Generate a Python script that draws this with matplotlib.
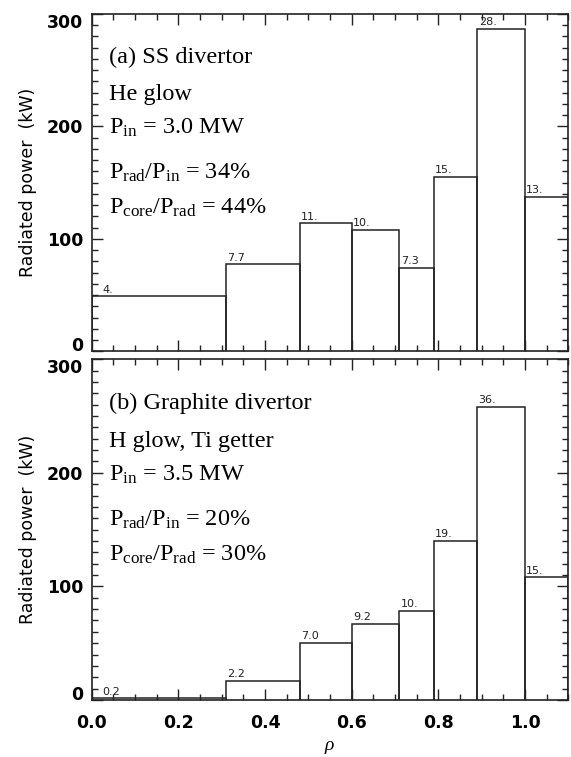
import matplotlib
matplotlib.use("Agg")
import matplotlib.pyplot as plt
from matplotlib.ticker import MultipleLocator, FormatStrFormatter, FixedLocator

# Bin edges in rho
rho_edges = [0.0, 0.31, 0.48, 0.60, 0.71, 0.79, 0.89, 1.0, 1.1]

# (a) SS divertor, He glow
power_a = [49, 77.5, 114, 108, 74.5, 155.5, 287, 137.5]
labels_a = ["4.", "7.7", "11.", "10.", "7.3", "15.", "28.", "13."]
text_a = ["(a) SS divertor", "He glow", r"P$_{\rm in}$ = 3.0 MW",
          r"P$_{\rm rad}$/P$_{\rm in}$ = 34%",
          r"P$_{\rm core}$/P$_{\rm rad}$ = 44%"]

# (b) Graphite divertor, H glow, Ti getter
power_b = [1.5, 17, 50.5, 67, 78.5, 140, 258, 108]
labels_b = ["0.2", "2.2", "7.0", "9.2", "10.", "19.", "36.", "15."]
text_b = ["(b) Graphite divertor", "H glow, Ti getter", r"P$_{\rm in}$ = 3.5 MW",
          r"P$_{\rm rad}$/P$_{\rm in}$ = 20%",
          r"P$_{\rm core}$/P$_{\rm rad}$ = 30%"]

x_ticks = [0.0, 0.2, 0.4, 0.6, 0.8, 1.0]
y_ticks = [0, 100, 200, 300]
ylabel = "Radiated power  (kW)"
xlabel = r"$\rho$"

plt.rcParams['mathtext.fontset'] = 'custom'
plt.rcParams['mathtext.rm'] = 'Liberation Serif'
plt.rcParams['mathtext.it'] = 'Liberation Serif:italic'

fig = plt.figure(figsize=(5.71, 7.57), dpi=100)
ax1 = fig.add_axes([0.1606, 0.5358, 0.8347, 0.4457])
ax2 = fig.add_axes([0.1606, 0.0753, 0.8347, 0.4501])

col = "#222222"

def draw(ax, power, labels, texts, show_x):
    for i, v in enumerate(power):
        x0, x1 = rho_edges[i], rho_edges[i + 1]
        ax.plot([x0, x0, x1, x1], [0, v, v, 0], color=col, lw=1.1,
                solid_joinstyle='miter')
        lx = x0 + (0.025 if i == 0 else 0.003)
        ax.text(lx, v + 1.5, labels[i], fontsize=8, color=col,
                ha='left', va='bottom', family='DejaVu Sans')
    ax.set_xlim(0, 1.1)
    ax.set_ylim(0, 300)
    ax.xaxis.set_major_locator(FixedLocator(x_ticks))
    ax.xaxis.set_minor_locator(MultipleLocator(0.05))
    ax.yaxis.set_major_locator(FixedLocator(y_ticks))
    ax.yaxis.set_minor_locator(MultipleLocator(10))
    ax.xaxis.set_major_formatter(FormatStrFormatter('%.1f'))
    ax.yaxis.set_major_formatter(FormatStrFormatter('%d'))
    ax.tick_params(which='both', direction='in', top=True, right=True,
                   color=col, width=1.0)
    ax.tick_params(which='major', length=8, labelsize=12.5, labelcolor='black')
    ax.tick_params(which='minor', length=4)
    ax.tick_params(axis='y', pad=6)
    ax.tick_params(axis='x', pad=10)
    for s in ax.spines.values():
        s.set_linewidth(1.2)
        s.set_color(col)
    ax.set_ylabel(ylabel, fontsize=12.5, labelpad=7)
    if show_x:
        ax.set_xlabel(xlabel, fontsize=14, labelpad=4)
        for t in ax.get_xticklabels():
            t.set_fontweight('bold')
    else:
        ax.tick_params(axis='x', labelbottom=False)
    ylabs = ax.get_yticklabels()
    for t in ylabs:
        t.set_fontweight('bold')
    ylabs[0].set_va('baseline')
    ylabs[-1].set_va('top')
    ys = [0.87, 0.76, 0.662, 0.53, 0.425]
    for t, yy in zip(texts, ys):
        ax.text(0.036, yy, t, transform=ax.transAxes, fontsize=17.5,
                family='Liberation Serif', ha='left', va='center', color='black')

draw(ax1, power_a, labels_a, text_a, False)
draw(ax2, power_b, labels_b, text_b, True)

fig.savefig("out.png", dpi=100)
